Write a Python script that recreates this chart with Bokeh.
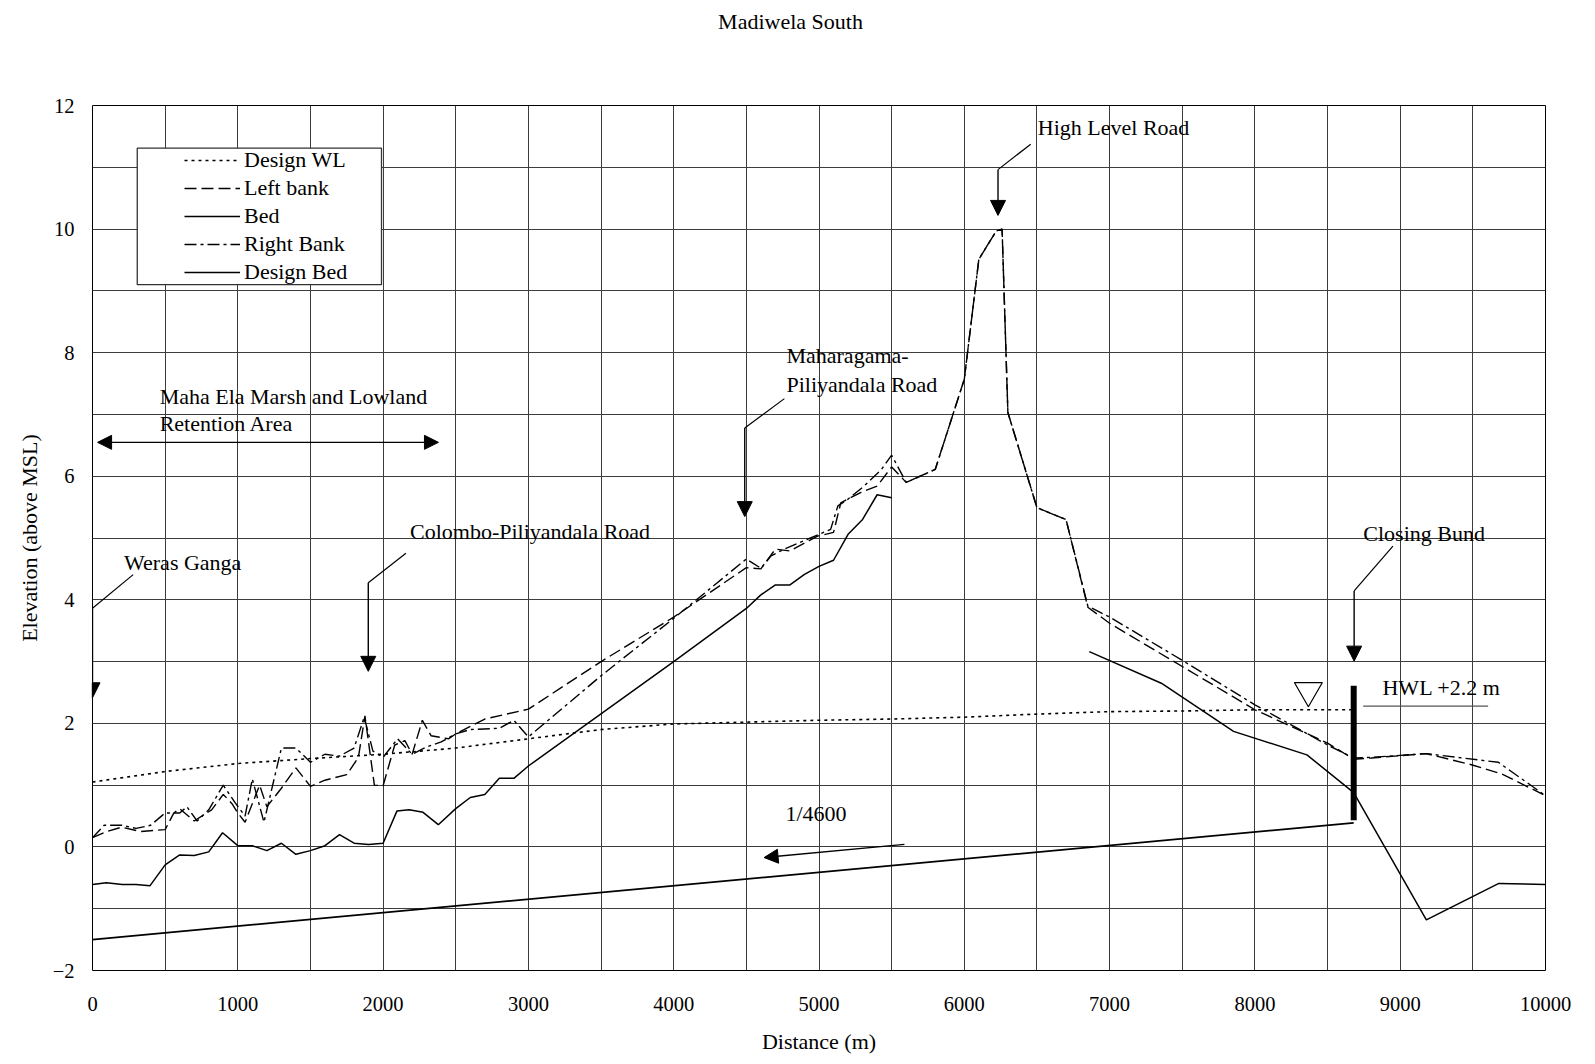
from bokeh.plotting import figure
from bokeh.models import (Range1d, FixedTicker, Legend, LegendItem, Label, Arrow,
                          NormalHead, BoxAnnotation, LinearAxis)
from bokeh.embed import file_html
from bokeh.resources import INLINE

nan = float("nan")

# ---------------- data ----------------
wl_dist = [0, 500, 1000, 1500, 2000, 2500, 3000, 3500, 4000, 4500, 5000, 5500,
           6000, 6500, 7000, 7500, 8000, 8680]
design_wl = [1.05, 1.22, 1.35, 1.43, 1.50, 1.60, 1.75, 1.90, 1.99, 2.02, 2.05, 2.07,
             2.10, 2.15, 2.19, 2.20, 2.22, 2.22]

lb_dist = [0, 100, 200, 330, 500, 560, 600, 700, 820, 900, 960, 1000, 1050, 1150,
           1200, 1300, 1400, 1500, 1600, 1750, 1830, 1875, 1940, 2000, 2080, 2150,
           2200, 2270, 2330, 2450, 2500, 2700, 2850, 3000, 3500, 4000, 4500, 4600,
           4700, 4800, 4990, 5100, 5150, 5290, 5400, 5500, 5600, 5800, 6000, 6100,
           6220, 6260, 6300, 6500, 6700, 6850, 7000, 7500, 8000, 8500, 8680, 8800,
           9180, 9490, 9700, 10000]
left_bank = [0.15, 0.25, 0.32, 0.25, 0.28, 0.55, 0.62, 0.42, 0.60, 0.85, 0.70, 0.55,
             0.40, 1.00, 0.65, 0.95, 1.28, 0.98, 1.08, 1.17, 1.45, 2.12, 1.00, 0.99,
             1.65, 1.72, 1.50, 2.05, 1.80, 1.75, 1.83, 2.07, 2.15, 2.23, 3.00, 3.72,
             4.52, 4.50, 4.82, 4.79, 5.03, 5.09, 5.57, 5.74, 5.84, 6.15, 5.90, 6.11,
             7.57, 9.51, 9.97, 10.00, 7.03, 5.49, 5.30, 3.88, 3.62, 2.92, 2.22, 1.68,
             1.42, 1.44, 1.51, 1.33, 1.18, 0.83]

rb_dist = [0, 80, 200, 300, 400, 500, 600, 650, 720, 800, 900, 980, 1050, 1100,
           1180, 1300, 1400, 1500, 1600, 1700, 1800, 1870, 1930, 2000, 2100, 2200,
           2300, 2400, 2500, 2600, 2800, 2900, 3000, 3500, 4000, 4500, 4600, 4670,
           4760, 4920, 4980, 5080, 5130, 5200, 5310, 5430, 5500, 5600, 5800, 6000,
           6100, 6220, 6260, 6300, 6500, 6700, 6850, 7000, 7500, 8000, 8500, 8680,
           8800, 9180, 9675, 10000]
right_bank = [0.15, 0.35, 0.35, 0.30, 0.35, 0.55, 0.55, 0.65, 0.42, 0.60, 1.00, 0.72,
              0.50, 1.10, 0.40, 1.60, 1.60, 1.37, 1.50, 1.47, 1.60, 2.10, 1.55, 1.45,
              1.75, 1.50, 1.62, 1.70, 1.83, 1.90, 1.92, 2.05, 1.78, 2.77, 3.70, 4.66,
              4.51, 4.71, 4.82, 4.98, 5.04, 5.14, 5.52, 5.63, 5.84, 6.11, 6.34, 5.90,
              6.11, 7.57, 9.51, 9.97, 10.00, 7.03, 5.49, 5.30, 3.90, 3.72, 3.02, 2.30,
              1.65, 1.44, 1.45, 1.51, 1.37, 0.83]

bed_dist = [0, 95, 205, 300, 395, 500, 600, 700, 800, 895, 1000, 1100, 1200, 1300,
            1400, 1500, 1600, 1700, 1800, 1900, 2000, 2095, 2180, 2275, 2380, 2500,
            2600, 2700, 2800, 2900, 3000, 4000, 4500, 4600, 4700, 4800, 4900, 5000,
            5100, 5200, 5300, 5400, 5500, 6200, 6860, 7356, 7853, 8358, 8680, 9180,
            9679, 10000]
bed = [-0.61, -0.58, -0.61, -0.61, -0.63, -0.29, -0.13, -0.14, -0.08, 0.23, 0.02,
       0.02, -0.06, 0.06, -0.12, -0.06, 0.02, 0.20, 0.06, 0.04, 0.06, 0.58, 0.60,
       0.56, 0.36, 0.62, 0.80, 0.85, 1.11, 1.11, 1.31, 3.00, 3.86, 4.08, 4.24, 4.24,
       4.41, 4.54, 4.64, 5.06, 5.30, 5.70, 5.65, nan, 3.16, 2.65, 1.87, 1.49, 0.88,
       -1.18, -0.59, -0.61]

design_bed_dist = [0, 8680]
design_bed = [-1.50, 0.39]

series_names = ["Design WL", "Left bank", "Bed", "Right Bank", "Design Bed"]
title_text = "Madiwela South"

FONT = "Liberation Serif"
FS = "22px"
TICK_FS = "20.5px"

# ---------------- figure ----------------
W, H = 1580, 1058
BL, BT, FW, FH = 92, 105, 1453, 865
p = figure(width=W, height=H, x_range=Range1d(0, 10000), y_range=Range1d(-2, 12),
           output_backend="svg", toolbar_location=None,
           min_border_left=BL, min_border_right=W - BL - FW,
           min_border_top=BT, min_border_bottom=H - BT - FH)
p.outline_line_color = "black"
p.outline_line_width = 1
p.background_fill_color = "white"

p.xaxis.ticker = FixedTicker(ticks=list(range(0, 10001, 1000)))
p.yaxis.ticker = FixedTicker(ticks=list(range(-2, 13, 2)))
p.xgrid.ticker = FixedTicker(ticks=list(range(0, 10001, 500)))
p.ygrid.ticker = FixedTicker(ticks=list(range(-2, 13, 1)))
for g in (p.xgrid, p.ygrid):
    g.grid_line_color = "#3c3c3c"
    g.grid_line_width = 1

for ax in (p.xaxis, p.yaxis):
    ax.major_tick_out = 0
    ax.major_tick_in = 0
    ax.minor_tick_out = 0
    ax.minor_tick_in = 0
    ax.axis_line_color = None
    ax.major_label_text_font = FONT
    ax.major_label_text_font_size = TICK_FS
    ax.major_label_text_color = "black"
    ax.axis_label_text_font = FONT
    ax.axis_label_text_font_size = FS
    ax.axis_label_text_font_style = "normal"
    ax.axis_label_text_color = "black"

p.xaxis.axis_label = "Distance (m)"
p.yaxis.axis_label = "Elevation (above MSL)"
p.xaxis.major_label_standoff = 26
p.xaxis.axis_label_standoff = 15
p.yaxis.major_label_standoff = 18
p.yaxis.axis_label_standoff = 8

# title, drawn as the single label of an axis above the frame
top_axis = LinearAxis(ticker=FixedTicker(ticks=[4804]),
                      major_label_overrides={4804: title_text},
                      major_tick_out=0, major_tick_in=0, minor_tick_out=0, minor_tick_in=0,
                      axis_line_color=None, major_label_standoff=72,
                      major_label_text_font=FONT, major_label_text_font_size=FS,
                      major_label_text_color="black")
p.add_layout(top_axis, "above")

# ---------------- series ----------------
r_wl = p.line(wl_dist, design_wl, line_color="black", line_width=1.6, line_dash="3 4")
r_lb = p.line(lb_dist, left_bank, line_color="black", line_width=1.4, line_dash="12 5")
r_bed = p.line(bed_dist, bed, line_color="black", line_width=1.5)
r_rb = p.line(rb_dist, right_bank, line_color="black", line_width=1.4, line_dash="12 4 3 4")
r_db = p.line(design_bed_dist, design_bed, line_color="black", line_width=1.7)

# ---------------- legend ----------------
box = BoxAnnotation(left=308, right=1989, top=11.31, bottom=9.10,
                    fill_color="white", fill_alpha=1, line_color="#333333",
                    line_alpha=1, line_width=1.3)
p.add_layout(box)

legend = Legend(items=[LegendItem(label=n, renderers=[r]) for n, r in
                       zip(series_names, [r_wl, r_lb, r_bed, r_rb, r_db])],
                location=(92, 685), padding=0, margin=0, spacing=2,
                glyph_width=56, glyph_height=22, label_height=22, label_standoff=4,
                border_line_alpha=0, background_fill_alpha=0,
                label_text_font=FONT, label_text_font_size=FS, label_text_color="black")
p.add_layout(legend)

# ---------------- annotations ----------------
def text(x, y, s, align="left"):
    p.add_layout(Label(x=x, y=y, text=s, text_align=align, text_baseline="middle",
                       text_font=FONT, text_font_size=FS, text_color="black"))

def arrow(x0, y0, x1, y1, start=False, size=15):
    p.add_layout(Arrow(x_start=x0, y_start=y0, x_end=x1, y_end=y1, line_width=1.4,
                       line_color="black",
                       end=NormalHead(size=size, fill_color="black", line_color="black"),
                       start=(NormalHead(size=size, fill_color="black", line_color="black")
                              if start else None)))

# leader lines (diagonals)
p.segment(x0=[280, 2157, 4762, 6457, 8950], y0=[4.407, 4.753, 7.256, 11.374, 4.868],
          x1=[0, 1898, 4489, 6232, 8683], y1=[3.864, 4.275, 6.779, 10.962, 4.143],
          line_color="black", line_width=1.2)
arrow(0, 3.864, 0, 2.414)
arrow(1898, 4.275, 1898, 2.842)
arrow(4489, 6.779, 4489, 5.346)
arrow(6232, 10.962, 6232, 10.221)
arrow(8683, 4.143, 8683, 3.007)
arrow(5588, 0.042, 4622, -0.172, size=14)
arrow(35, 6.548, 2381, 6.548, start=True, size=14)

text(217, 4.60, "Weras Ganga")
text(2185, 5.11, "Colombo-Piliyandala Road")
text(4776, 7.96, "Maharagama-")
text(4776, 7.49, "Piliyandala Road")
text(6506, 11.64, "High Level Road")
text(8746, 5.07, "Closing Bund")
text(4769, 0.54, "1/4600")
text(462, 7.29, "Maha Ela Marsh and Lowland")
text(462, 6.86, "Retention Area")
text(8878, 2.58, "HWL +2.2 m")

# HWL underline, marker and closing bund bar
p.segment(x0=[8745], y0=[2.28], x1=[9605], y1=[2.28], line_color="#555555", line_width=1.2)
p.scatter([8368], [2.53], marker="inverted_triangle", size=28,
          fill_color="white", line_color="black", line_width=1.2)
p.segment(x0=[8680], y0=[0.43], x1=[8680], y1=[2.61], line_color="black", line_width=6)

open("out.html", "w").write(file_html(p, INLINE))
